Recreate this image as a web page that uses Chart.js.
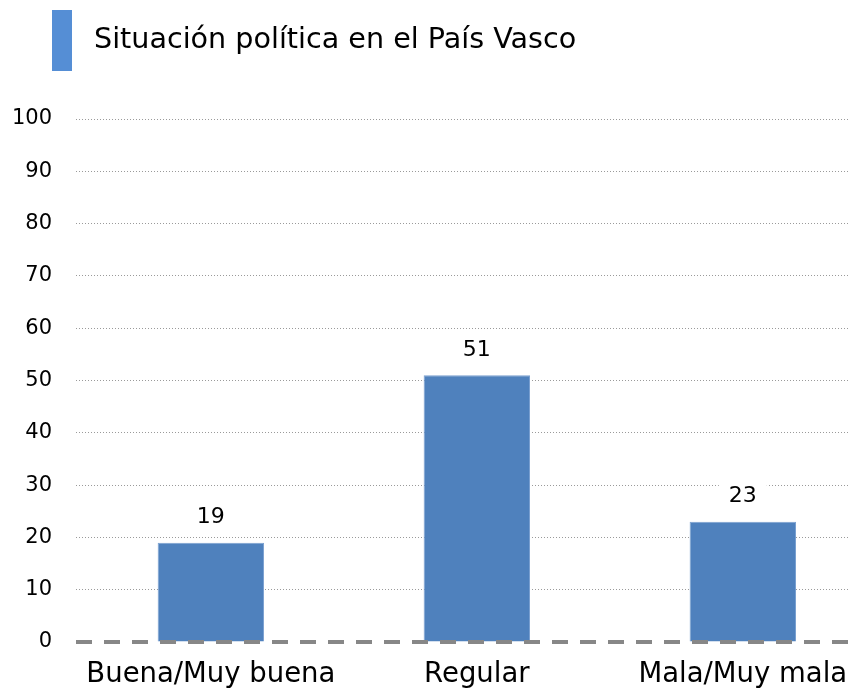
<!DOCTYPE html>
<html><head><meta charset="utf-8">
<script src="https://cdn.jsdelivr.net/npm/chart.js@4.4.1/dist/chart.umd.min.js"></script>
<style>html,body{margin:0;padding:0;background:#fff}#wrap{width:859px;height:700px}</style>
</head><body><div id="wrap"><canvas id="c" width="859" height="700"></canvas></div>
<script>
const TITLE = 'Situación política en el País Vasco';
const categories = ['Buena/Muy buena', 'Regular', 'Mala/Muy mala'];
const values = [19, 51, 23];
const yTicks = [0, 10, 20, 30, 40, 50, 60, 70, 80, 90, 100];
const FONT = "'DejaVu Sans', sans-serif";

const extras = {
  id: 'extras',
  afterDatasetsDraw(chart) {
    const ctx = chart.ctx, ys = chart.scales.y, area = chart.chartArea;
    const y0 = ys.getPixelForValue(0);
    ctx.save();
    ctx.strokeStyle = '#878787';
    ctx.lineWidth = 4;
    ctx.setLineDash([16, 12]);
    ctx.beginPath();
    ctx.moveTo(area.left, y0);
    ctx.lineTo(area.right, y0);
    ctx.stroke();
    ctx.restore();
    const meta = chart.getDatasetMeta(0);
    ctx.save();
    ctx.font = '22px ' + FONT;
    ctx.textAlign = 'center';
    ctx.textBaseline = 'middle';
    meta.data.forEach((bar, i) => {
      const t = String(values[i]);
      const w = ctx.measureText(t).width;
      const cy = bar.y - 25;
      ctx.fillStyle = '#fff';
      ctx.fillRect(bar.x - w / 2 - 10, cy - 14, w + 20, 28);
      ctx.fillStyle = '#000';
      ctx.fillText(t, bar.x, cy);
    });
    ctx.restore();
  },
  afterDraw(chart) {
    const ctx = chart.ctx;
    ctx.save();
    ctx.fillStyle = '#558ED5';
    ctx.fillRect(52, 10, 20, 61);
    ctx.fillStyle = '#000';
    ctx.font = '28.6px ' + FONT;
    ctx.textAlign = 'left';
    ctx.textBaseline = 'middle';
    ctx.fillText(TITLE, 94, 41);
    ctx.restore();
  }
};

new Chart(document.getElementById('c'), {
  type: 'bar',
  data: {
    datasets: [{
      data: values.map((v, i) => ({ x: i, y: v })),
      backgroundColor: '#4F81BD',
      borderColor: '#7aa0d0',
      borderWidth: 1,
      barPercentage: 0.4,
      categoryPercentage: 1.0
    }]
  },
  options: {
    responsive: false,
    animation: false,
    devicePixelRatio: 1,
    layout: { padding: { top: 119, right: 9, left: 0, bottom: 0 } },
    plugins: { legend: { display: false }, tooltip: { enabled: false } },
    scales: {
      x: {
        type: 'linear',
        offset: false,
        min: -0.507,
        max: 2.403,
        afterBuildTicks(scale) { scale.ticks = categories.map((c, i) => ({ value: i })); },
        afterFit(scale) { scale.height = 58; scale.paddingLeft = 0; scale.paddingRight = 0; },
        grid: { display: false, drawTicks: false, offset: false },
        border: { display: false },
        ticks: {
          callback: (v) => categories[v],
          color: '#000',
          font: { family: FONT, size: 27.5 },
          padding: 16,
          maxRotation: 0,
          autoSkip: false
        }
      },
      y: {
        min: 0,
        max: 100,
        afterBuildTicks(scale) { scale.ticks = yTicks.map(v => ({ value: v })); },
        afterFit(scale) { scale.width = 76; scale.paddingTop = 0; scale.paddingBottom = 0; },
        grid: {
          drawTicks: false,
          color: (c) => c.tick && c.tick.value === 0 ? 'rgba(0,0,0,0)' : '#9a9a9a',
          lineWidth: 1
        },
        border: { display: false, dash: [1, 2] },
        ticks: {
          color: '#000',
          font: { family: FONT, size: 21 },
          padding: 24
        }
      }
    }
  },
  plugins: [extras]
});
</script></body></html>
